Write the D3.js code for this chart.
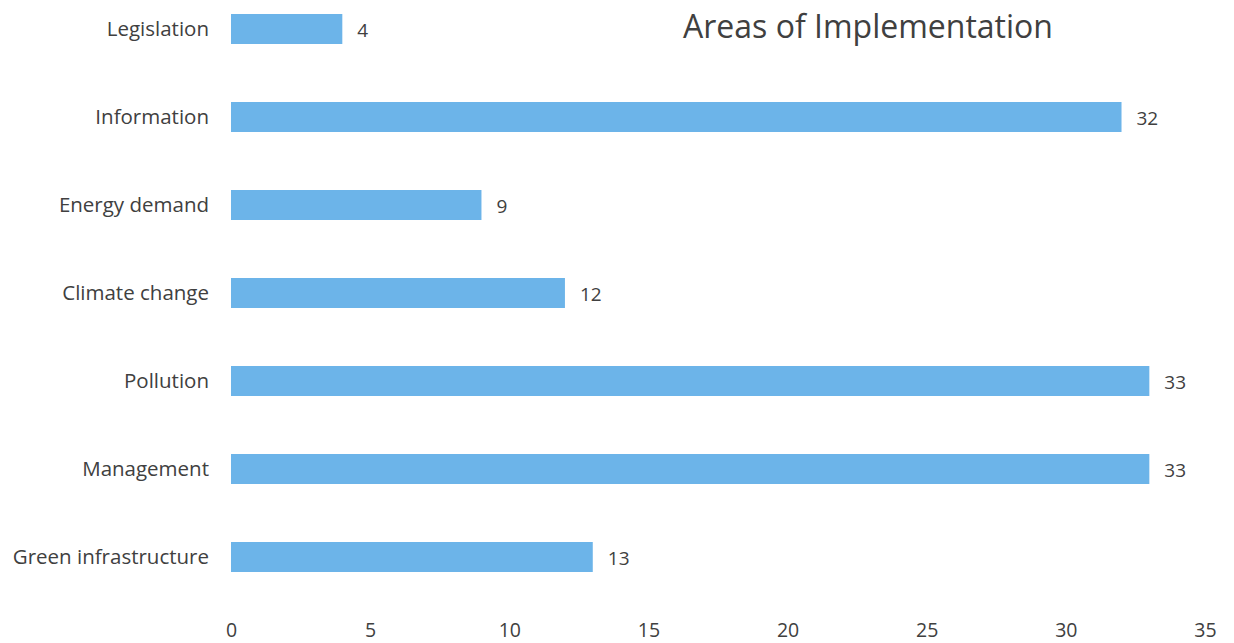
<!DOCTYPE html>
<html><head><meta charset="utf-8">
<script src="https://cdn.jsdelivr.net/npm/d3@7"></script>
<style>body{margin:0;background:#fff;} text{font-family:"Open Sans","Noto Sans",sans-serif;fill:#404040;}</style>
</head><body><svg id="c" width="1234" height="643"></svg>
<script>
const categories = ["Legislation","Information","Energy demand","Climate change","Pollution","Management","Green infrastructure"];
const values = [4,32,9,12,33,33,13];
const xTicks = [0,5,10,15,20,25,30,35];
const title = "Areas of Implementation";

const svg = d3.select("#c");
const x = d3.scaleLinear().domain([0,35]).range([231,1205]);
const y = d3.scalePoint().domain(categories).range([29,557]);
const bh = 30;

svg.selectAll("rect.bar").data(categories).join("rect")
  .attr("class","bar")
  .attr("x", x(0)).attr("y", d=>y(d)-bh/2)
  .attr("width", (d,i)=>x(values[i])-x(0)).attr("height", bh)
  .attr("fill","#6cb4e9");

svg.selectAll("text.val").data(categories).join("text")
  .attr("class","val")
  .attr("x",(d,i)=>x(values[i])+15).attr("y",d=>y(d)+1).attr("dy","0.35em")
  .attr("font-size",19).text((d,i)=>values[i]);

svg.selectAll("text.cat").data(categories).join("text")
  .attr("class","cat")
  .attr("x",209).attr("y",d=>y(d)).attr("dy","0.35em")
  .attr("text-anchor","end").attr("font-size",20.5).attr("textLength",null).text(d=>d);

const ax = svg.append("g").attr("transform","translate(0,623)")
  .call(d3.axisBottom(x).tickValues(xTicks).tickSize(0).tickPadding(0));
ax.select(".domain").remove();
ax.selectAll("text").attr("font-size",19.5).attr("fill","#404040").style("font-family",'"Open Sans","Noto Sans",sans-serif');

svg.append("text").attr("x",868).attr("y",27).attr("dy","0.35em")
  .attr("text-anchor","middle").attr("font-size",32).text(title);
</script></body></html>
